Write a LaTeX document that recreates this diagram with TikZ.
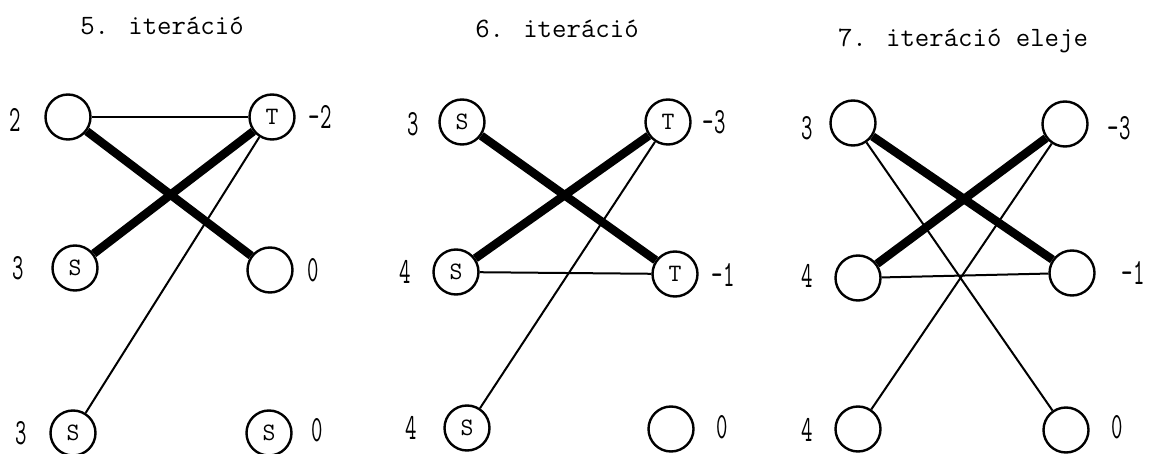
\documentclass[tikz,border=0pt]{standalone}
\usepackage{fontspec}
\usetikzlibrary{positioning}
\tikzset{
  vertex/.style={draw, circle, line width=2.4pt, minimum size=45pt, inner sep=0pt, fill=white, font=\ttfamily\fontsize{25}{25}\selectfont},
  matched/.style={line width=8.5pt},
  edge/.style={line width=2pt},
  potlabel/.style={font=\ttfamily\fontsize{37}{37}\selectfont, inner sep=0pt},
  heading/.style={font=\ttfamily\fontsize{28}{28}\selectfont, inner sep=0pt, anchor=base}
}
\newcommand{\pot}[1]{\scalebox{0.6}[1]{#1}}

\begin{document}
\begin{tikzpicture}[x=1pt, y=-1pt]
  \useasboundingbox (0,0) rectangle (1149,454);

  % 5. iteracio
  \node[heading] (h1) at (162,35) {5. iteráció};
  \node[vertex] (a1) at (68,117) {};
  \node[vertex] (b1) at (272,117) {T};
  \node[vertex] (c1) at (75,268) {S};
  \node[vertex] (d1) at (270,270) {};
  \node[vertex] (e1) at (73,433) {S};
  \node[vertex] (f1) at (269,433) {S};
  \draw[edge] (a1) -- (b1);
  \draw[matched] (a1) -- (d1);
  \draw[matched] (c1) -- (b1);
  \draw[edge] (e1) -- (b1);
  \node[potlabel] (la1) at (15,120) {\pot{2}};
  \node[potlabel] (lb1) at (320,117) {\pot{-2}};
  \node[potlabel] (lc1) at (18,268) {\pot{3}};
  \node[potlabel] (ld1) at (313,270) {\pot{0}};
  \node[potlabel] (le1) at (21,433) {\pot{3}};
  \node[potlabel] (lf1) at (317,430) {\pot{0}};

  % 6. iteracio
  \node[heading] (h2) at (557,38) {6. iteráció};
  \node[vertex] (a2) at (462,122) {S};
  \node[vertex] (b2) at (668,122) {T};
  \node[vertex] (c2) at (456,272) {S};
  \node[vertex] (d2) at (675,274) {T};
  \node[vertex] (e2) at (467,428) {S};
  \node[vertex] (f2) at (671,429) {};
  \draw[matched] (a2) -- (d2);
  \draw[matched] (c2) -- (b2);
  \draw[edge] (c2) -- (d2);
  \draw[edge] (e2) -- (b2);
  \node[potlabel] (la2) at (413,124) {\pot{3}};
  \node[potlabel] (lb2) at (714,122) {\pot{-3}};
  \node[potlabel] (lc2) at (405,272) {\pot{4}};
  \node[potlabel] (ld2) at (723,275) {\pot{-1}};
  \node[potlabel] (le2) at (411,428) {\pot{4}};
  \node[potlabel] (lf2) at (722,427) {\pot{0}};

  % 7. iteracio eleje
  \node[heading] (h3) at (963,47) {7. iteráció eleje};
  \node[vertex] (a3) at (853,123) {};
  \node[vertex] (b3) at (1065,124) {};
  \node[vertex] (c3) at (858,278) {};
  \node[vertex] (d3) at (1072,273) {};
  \node[vertex] (e3) at (858,429) {};
  \node[vertex] (f3) at (1066,430) {};
  \draw[matched] (a3) -- (d3);
  \draw[matched] (c3) -- (b3);
  \draw[edge] (c3) -- (d3);
  \draw[edge] (a3) -- (f3);
  \draw[edge] (b3) -- (e3);
  \node[potlabel] (la3) at (807,128) {\pot{3}};
  \node[potlabel] (lb3) at (1119,128) {\pot{-3}};
  \node[potlabel] (lc3) at (807,276) {\pot{4}};
  \node[potlabel] (ld3) at (1133,273) {\pot{-1}};
  \node[potlabel] (le3) at (807,430) {\pot{4}};
  \node[potlabel] (lf3) at (1117,427) {\pot{0}};
\end{tikzpicture}
\end{document}
